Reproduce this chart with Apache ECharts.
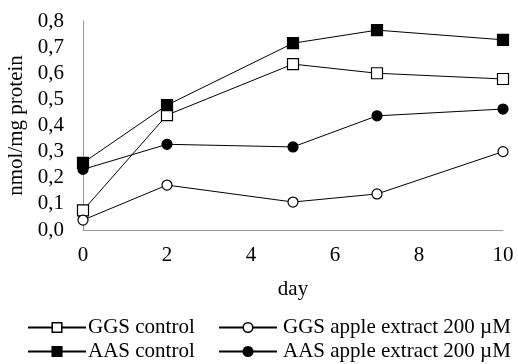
<!DOCTYPE html>
<html><head><meta charset="utf-8">
<script src="https://cdn.jsdelivr.net/npm/echarts@6/dist/echarts.min.js"></script>
<style>html,body{margin:0;padding:0;background:#fff}#c{width:518px;height:364px}</style>
</head><body><div id="c"></div>
<script>
const days = [0, 2, 5, 7, 10];
const ggsControl = [0.075, 0.44, 0.635, 0.60, 0.578];
const aasControl = [0.257, 0.478, 0.715, 0.765, 0.728];
const ggsApple = [0.038, 0.172, 0.107, 0.138, 0.30];
const aasApple = [0.232, 0.328, 0.318, 0.437, 0.463];
const names = ['GGS control', 'AAS control', 'GGS apple extract 200 µM', 'AAS apple extract 200 µM'];

const font = 'Liberation Serif';
function pts(v){ return days.map((d,i)=>[d, v[i]]); }
function s(name, data, symbol, fill, size){
  return {name, type:'line', data: pts(data), symbol, symbolSize:size,
    lineStyle:{color:'#000', width:1}, itemStyle:{color:fill, borderColor:'#000', borderWidth:1.2},
    emphasis:{disabled:true}, animation:false};
}
function lg(name, left, top, textPad){
  return {data:[name], left, top, padding:0, itemWidth:58, itemHeight:12,
    lineStyle:{width:2}, itemStyle:{borderWidth:1.5},
    textStyle:{fontFamily:font, fontSize:21, color:'#000', padding:[0,0,0,textPad]}};
}
const chart = echarts.init(document.getElementById('c'));
chart.setOption({
  backgroundColor:'#fff',
  animation:false,
  grid:{left:83, right:15, top:21, bottom:134, containLabel:false, outerBoundsMode:'none'},
  xAxis:{type:'value', min:0, max:10, interval:2, name:'day', nameLocation:'middle', nameGap:49,
    nameTextStyle:{fontFamily:font, fontSize:21, color:'#000'},
    axisLine:{lineStyle:{color:'#999'}}, axisTick:{show:false}, splitLine:{show:false},
    axisLabel:{fontFamily:font, fontSize:21, color:'#000', margin:15}},
  yAxis:{type:'value', min:0, max:0.8, interval:0.1, name:'nmol/mg protein', nameLocation:'middle', nameGap:50,
    nameTextStyle:{fontFamily:font, fontSize:21, color:'#000'},
    axisLine:{show:true, lineStyle:{color:'#999'}}, axisTick:{show:false}, splitLine:{show:false},
    axisLabel:{fontFamily:font, fontSize:21, color:'#000', margin:19, formatter:v=>v.toFixed(1).replace('.',',')}},
  legend:[
    lg(names[0], 27, 317, -3),
    lg(names[1], 27, 341, -3),
    lg(names[2], 218, 317, 1),
    lg(names[3], 218, 341, 1)
  ],
  series:[
    s(names[0], ggsControl, 'rect', '#fff', 11),
    s(names[1], aasControl, 'rect', '#000', 11),
    s(names[2], ggsApple, 'circle', '#fff', 10),
    s(names[3], aasApple, 'circle', '#000', 10)
  ]
});
</script></body></html>
